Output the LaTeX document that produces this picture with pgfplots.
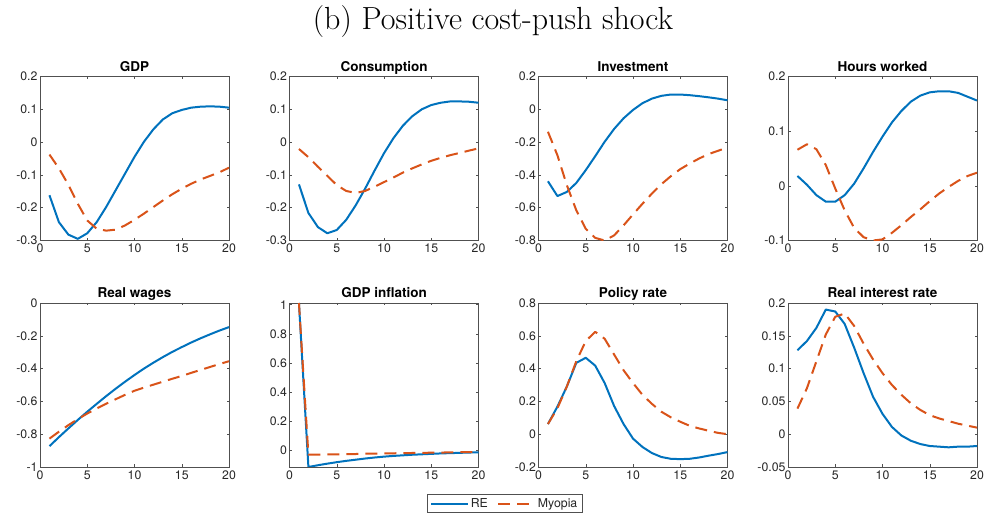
\documentclass[border=0pt]{standalone}
\usepackage{fontspec}
\setsansfont{TeX Gyre Heros}
\usepackage{pgfplots}
\usepackage{pgfplotstable}
\pgfplotsset{compat=1.18}

\definecolor{reblue}{RGB}{0,114,189}
\definecolor{myorange}{RGB}{217,83,25}
\definecolor{axgray}{RGB}{80,80,80}
\definecolor{lblgray}{RGB}{38,38,38}

% Impulse responses, periods 1-20: rational expectations (re) vs myopia (my)
\pgfplotstableread{
t re my
1 -0.162 -0.038
2 -0.244 -0.080
3 -0.282 -0.130
4 -0.295 -0.188
5 -0.278 -0.239
6 -0.244 -0.264
7 -0.198 -0.270
8 -0.147 -0.267
9 -0.096 -0.254
10 -0.045 -0.237
11 0.001 -0.218
12 0.039 -0.198
13 0.069 -0.178
14 0.088 -0.159
15 0.098 -0.142
16 0.105 -0.127
17 0.108 -0.114
18 0.109 -0.103
19 0.108 -0.092
20 0.105 -0.078
}\gdp

\pgfplotstableread{
t re my
1 -0.129 -0.021
2 -0.216 -0.046
3 -0.259 -0.075
4 -0.278 -0.103
5 -0.268 -0.131
6 -0.237 -0.149
7 -0.193 -0.155
8 -0.142 -0.149
9 -0.087 -0.136
10 -0.034 -0.122
11 0.012 -0.108
12 0.050 -0.093
13 0.079 -0.080
14 0.100 -0.068
15 0.113 -0.057
16 0.120 -0.048
17 0.124 -0.040
18 0.124 -0.033
19 0.123 -0.026
20 0.120 -0.019
}\cons

\pgfplotstableread{
t re my
1 -0.439 -0.137
2 -0.529 -0.280
3 -0.504 -0.463
4 -0.449 -0.616
5 -0.371 -0.729
6 -0.286 -0.784
7 -0.198 -0.800
8 -0.120 -0.769
9 -0.055 -0.708
10 -0.004 -0.641
11 0.037 -0.576
12 0.065 -0.514
13 0.082 -0.457
14 0.090 -0.408
15 0.090 -0.365
16 0.086 -0.331
17 0.080 -0.300
18 0.073 -0.273
19 0.065 -0.253
20 0.055 -0.233
}\inv

\pgfplotstableread{
t re my
1 0.018 0.066
2 0.002 0.076
3 -0.017 0.067
4 -0.029 0.038
5 -0.029 -0.005
6 -0.017 -0.045
7 0.004 -0.077
8 0.032 -0.094
9 0.062 -0.100
10 0.090 -0.098
11 0.116 -0.086
12 0.137 -0.072
13 0.154 -0.057
14 0.165 -0.043
15 0.171 -0.028
16 0.173 -0.014
17 0.173 -0.002
18 0.170 0.009
19 0.163 0.018
20 0.156 0.024
}\hours

\pgfplotstableread{
t re my
1 -0.873 -0.827
2 -0.818 -0.785
3 -0.765 -0.745
4 -0.713 -0.708
5 -0.663 -0.674
6 -0.615 -0.643
7 -0.568 -0.614
8 -0.523 -0.587
9 -0.480 -0.560
10 -0.439 -0.535
11 -0.400 -0.516
12 -0.364 -0.498
13 -0.330 -0.480
14 -0.298 -0.462
15 -0.269 -0.445
16 -0.241 -0.426
17 -0.215 -0.408
18 -0.191 -0.390
19 -0.168 -0.372
20 -0.147 -0.355
}\wages

\pgfplotstableread{
t re my
1 1.012 1.012
2 -0.112 -0.028
3 -0.100 -0.027
4 -0.089 -0.026
5 -0.079 -0.025
6 -0.070 -0.024
7 -0.062 -0.023
8 -0.054 -0.021
9 -0.047 -0.020
10 -0.041 -0.019
11 -0.036 -0.018
12 -0.032 -0.017
13 -0.028 -0.016
14 -0.025 -0.015
15 -0.022 -0.014
16 -0.019 -0.013
17 -0.017 -0.012
18 -0.015 -0.011
19 -0.013 -0.010
20 -0.011 -0.009
}\infl

\pgfplotstableread{
t re my
1 0.062 0.062
2 0.168 0.158
3 0.291 0.291
4 0.435 0.445
5 0.466 0.568
6 0.418 0.624
7 0.312 0.582
8 0.172 0.486
9 0.062 0.390
10 -0.027 0.312
11 -0.078 0.240
12 -0.115 0.185
13 -0.139 0.137
14 -0.150 0.103
15 -0.152 0.076
16 -0.150 0.051
17 -0.142 0.035
18 -0.131 0.021
19 -0.121 0.008
20 -0.109 0.000
}\policy

\pgfplotstableread{
t re my
1 0.128 0.039
2 0.142 0.070
3 0.162 0.111
4 0.190 0.152
5 0.187 0.179
6 0.168 0.184
7 0.132 0.165
8 0.093 0.138
9 0.057 0.114
10 0.031 0.093
11 0.011 0.075
12 -0.002 0.060
13 -0.010 0.047
14 -0.015 0.037
15 -0.018 0.029
16 -0.019 0.024
17 -0.020 0.020
18 -0.019 0.016
19 -0.019 0.013
20 -0.018 0.010
}\realrate

\pgfplotsset{
  panel/.style={
    scale only axis, width=189pt, height=164pt, anchor=south west,
    xmin=0, xmax=20, xtick={0,5,10,15,20},
    axis line style={draw=axgray, line width=0.5pt},
    tick style={draw=axgray, line width=0.5pt},
    major tick length=2.5pt, tick align=inside,
    ticklabel style={font=\sffamily\fontsize{12.3}{14}\selectfont, text=lblgray},
    yticklabel style={xshift=1pt},
    /pgf/number format/assume math mode=true,
    /pgf/number format/fixed, /pgf/number format/precision=2,
    title style={font=\sffamily\bfseries\fontsize{13.5}{15}\selectfont,
      anchor=base, inner sep=0pt, text=black, yshift=-1pt},
  },
  rel/.style={reblue, line width=2pt, line join=round},
  myl/.style={myorange, line width=2pt, dash pattern=on 12pt off 7pt, line join=round},
}

\begin{document}
\begin{tikzpicture}
\useasboundingbox (0pt,0pt) rectangle (992pt,518pt);
\node[anchor=base, font=\fontsize{32}{38}\selectfont] at (493pt,488pt) {(b) Positive cost-push shock};

% top row
\begin{axis}[panel, at={(40pt,277.5pt)}, title={GDP},
  ymin=-0.3, ymax=0.2, ytick={-0.3,-0.2,-0.1,0,0.1,0.2}]
  \addplot[rel] table[x=t, y=re] {\gdp};
  \addplot[myl] table[x=t, y=my] {\gdp};
\end{axis}
\begin{axis}[panel, at={(289.5pt,277.5pt)}, title={Consumption},
  ymin=-0.3, ymax=0.2, ytick={-0.3,-0.2,-0.1,0,0.1,0.2}]
  \addplot[rel] table[x=t, y=re] {\cons};
  \addplot[myl] table[x=t, y=my] {\cons};
\end{axis}
\begin{axis}[panel, at={(538.5pt,277.5pt)}, title={Investment},
  ymin=-0.8, ymax=0.2, ytick={-0.8,-0.6,-0.4,-0.2,0,0.2}]
  \addplot[rel] table[x=t, y=re] {\inv};
  \addplot[myl] table[x=t, y=my] {\inv};
\end{axis}
\begin{axis}[panel, at={(788pt,277.5pt)}, title={Hours worked},
  ymin=-0.1, ymax=0.2, ytick={-0.1,0,0.1,0.2}]
  \addplot[rel] table[x=t, y=re] {\hours};
  \addplot[myl] table[x=t, y=my] {\hours};
\end{axis}

% bottom row
\begin{axis}[panel, at={(40pt,51pt)}, title={Real wages},
  ymin=-1, ymax=0, ytick={-1,-0.8,-0.6,-0.4,-0.2,0}]
  \addplot[rel] table[x=t, y=re] {\wages};
  \addplot[myl] table[x=t, y=my] {\wages};
\end{axis}
\begin{axis}[panel, at={(289.5pt,51pt)}, title={GDP inflation},
  ymin=-0.112, ymax=1.012, ytick={0,0.2,0.4,0.6,0.8,1},
  legend columns=2,
  legend style={at={(axis description cs:1.138,-0.2226)}, anchor=center,
    draw=axgray, line width=0.5pt, fill=white,
    font=\sffamily\fontsize{12.3}{14}\selectfont, text=lblgray,
    inner xsep=3pt, inner ysep=2.5pt,
    nodes={inner sep=1.5pt},
    /tikz/every even column/.append style={column sep=8pt}},
  legend image code/.code={\draw[#1] (0pt,0pt) -- (37pt,0pt);}]
  \addplot[rel] table[x=t, y=re] {\infl};
  \addplot[myl] table[x=t, y=my] {\infl};
  \legend{RE, Myopia}
\end{axis}
\begin{axis}[panel, at={(538.5pt,51pt)}, title={Policy rate},
  ymin=-0.2, ymax=0.8, ytick={-0.2,0,0.2,0.4,0.6,0.8}]
  \addplot[rel] table[x=t, y=re] {\policy};
  \addplot[myl] table[x=t, y=my] {\policy};
\end{axis}
\begin{axis}[panel, at={(788pt,51pt)}, title={Real interest rate},
  ymin=-0.05, ymax=0.2, ytick={-0.05,0,0.05,0.1,0.15,0.2}]
  \addplot[rel] table[x=t, y=re] {\realrate};
  \addplot[myl] table[x=t, y=my] {\realrate};
\end{axis}
\end{tikzpicture}
\end{document}
